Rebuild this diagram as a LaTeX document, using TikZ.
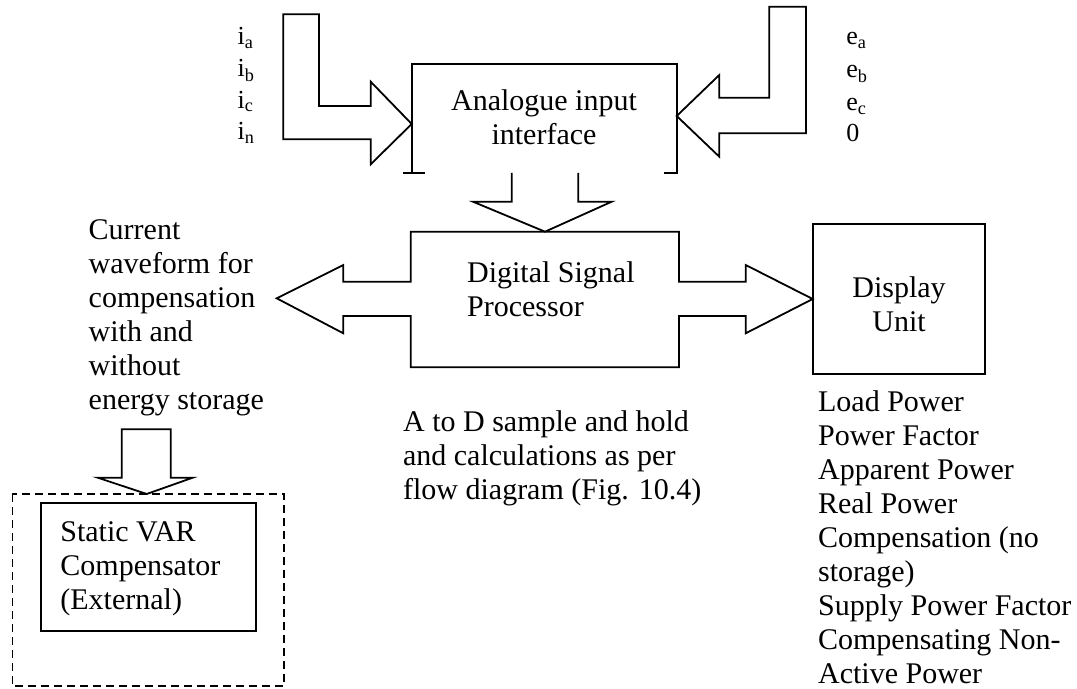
\documentclass[tikz,border=0pt]{standalone}
\usepackage{fontspec}
\setmainfont{Liberation Serif}
\usepackage{tikz}
\usetikzlibrary{positioning}

\tikzset{
  outline/.style={draw=black, line width=0.9pt, line join=miter},
  txt/.style={font=\fontsize{15}{17}\selectfont, inner sep=0pt},
  lbl/.style={font=\fontsize{13}{15}\selectfont, inner sep=0pt, anchor=base west},
}

\begin{document}
\begin{tikzpicture}[x=0.5pt, y=-0.5pt]
\useasboundingbox (0,0) rectangle (1077,689);
% input block arrows
\draw[outline] (283.3,14.3) -- (319,14.3) -- (319,106) -- (370.7,106) -- (370.7,81.7) -- (411.7,124) -- (370.7,164.3) -- (370.7,139.3) -- (283.3,139.3) -- cycle;
\draw[outline] (806,6.7) -- (769.3,6.7) -- (769.3,97.7) -- (719.3,97.7) -- (719.3,75) -- (676.7,116) -- (719.3,156.7) -- (719.3,133.3) -- (806,133.3) -- cycle;
% analogue input interface
\draw[outline] (403,173) -- (425,173);
\draw[outline] (411.7,173) -- (411.7,64.3) -- (676.7,64.3) -- (676.7,173) -- (664,173);
\draw[outline] (511.7,173) -- (511.7,201.7) -- (473,201.7) -- (545,231.7) -- (611.7,201.7) -- (578.3,201.7) -- (578.3,173);
% dsp with both side arrows
\draw[outline] (410.7,281.7) -- (410.7,231.7) -- (679,231.7) -- (679,281.7) -- (745.7,281.7) -- (745.7,265) -- (812.7,299) -- (745.7,333.3) -- (745.7,316) -- (679,316) -- (679,367.3) -- (410.7,367.3) -- (410.7,316) -- (343.3,316) -- (343.3,333.3) -- (276.7,298.3) -- (343.3,265) -- (343.3,281.7) -- cycle;
\draw[outline] (812.7,224) rectangle (985,374);
% compensator
\draw[outline] (121.7,429.3) -- (121.7,477.7) -- (97.7,477.7) -- (146.7,494) -- (192.7,477.7) -- (170.7,477.7) -- (170.7,429.3) -- cycle;
\draw[line width=0.8pt, dash pattern=on 4pt off 2.5pt] (12.3,494) rectangle (284,686);
\draw[outline] (40.7,502.7) rectangle (255.7,630.7);

\node[lbl] (ia) at (237.3,45) {i\textsubscript{a}};
\node[lbl] (ib) at (237.3,76.7) {i\textsubscript{b}};
\node[lbl] (ic) at (237.3,108.3) {i\textsubscript{c}};
\node[lbl] (in) at (237.3,140) {i\textsubscript{n}};
\node[lbl] (ea) at (846,45) {e\textsubscript{a}};
\node[lbl] (eb) at (846,78) {e\textsubscript{b}};
\node[lbl] (ec) at (846,111) {e\textsubscript{c}};
\node[lbl] (ez) at (846,141.7) {0};

% multi-line texts sit on the baseline of their last line
\node[txt, align=center, anchor=base] (ain) at (544,145) {Analogue input\\interface};
\node[txt, align=left, anchor=base west] (dsp) at (466.7,316.7) {Digital Signal\\Processor};
\node[txt, align=center, anchor=base] (disp) at (899,331.7) {Display\\Unit};
\node[txt, align=left, anchor=base west] (svc) at (60,609.7) {Static VAR\\Compensator\\(External)};
\node[txt, align=left, anchor=base west] (cur) at (88.3,410) {Current\\waveform for\\compensation\\with and\\without\\energy storage};
\node[txt, align=left, anchor=base west] (atod) at (402.7,500) {A to D sample and hold\\and calculations as per\\flow diagram (Fig. 10.4)};
\node[txt, align=left, anchor=base west] (outs) at (817.7,683) {Load Power\\Power Factor\\Apparent Power\\Real Power\\Compensation (no\\storage)\\Supply Power Factor\\Compensating Non-\\Active Power};
\end{tikzpicture}
\end{document}
